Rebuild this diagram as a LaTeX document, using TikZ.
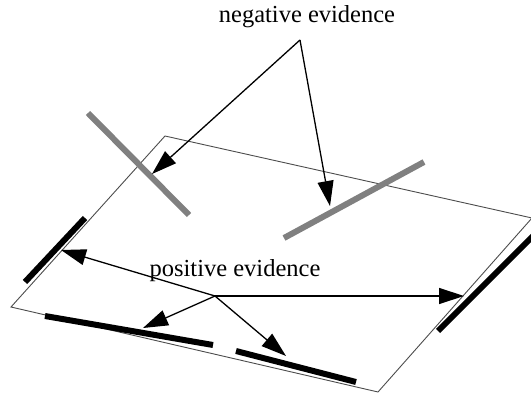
\documentclass[tikz,border=0pt]{standalone}
\usepackage{fontspec}
\setmainfont{Liberation Serif}
\usetikzlibrary{arrows.meta}
\begin{document}
\begin{tikzpicture}[x=1pt,y=-1pt,
  plane/.style={draw=black!70,line width=0.9pt},
  negbar/.style={draw=black!50,line width=6pt},
  posbar/.style={draw=black,line width=6pt},
  evarrow/.style={draw=black,line width=1.3pt,-{Triangle[length=25pt,width=16pt]}},
  lbl/.style={font=\fontsize{24.5}{28}\selectfont,inner sep=0pt}]
\useasboundingbox (0,0) rectangle (531,393);
% plane
\coordinate (pT) at (165,136);
\coordinate (pR) at (532,218);
\coordinate (pB) at (378,392);
\coordinate (pL) at (11,307);
\draw[plane] (pT) -- (pR) -- (pB) -- (pL) -- cycle;
% negative bars
\coordinate (n1a) at (88,113); \coordinate (n1b) at (189,215);
\coordinate (n2a) at (284,238); \coordinate (n2b) at (424,162);
\draw[negbar] (n1a) -- (n1b);
\draw[negbar] (n2a) -- (n2b);
% positive bars
\coordinate (b1a) at (25,282); \coordinate (b1b) at (85,218);
\coordinate (b2a) at (438,331); \coordinate (b2b) at (533,236);
\coordinate (b3a) at (45,316); \coordinate (b3b) at (213,345);
\coordinate (b4a) at (236,351); \coordinate (b4b) at (356,382);
\draw[posbar] (b1a) -- (b1b);
\draw[posbar] (b2a) -- (b2b);
\draw[posbar] (b3a) -- (b3b);
\draw[posbar] (b4a) -- (b4b);
% labels
\node[lbl] (neg) at (307,17) {negative evidence};
\node[lbl] (pos) at (235,271) {positive evidence};
% negative arrows
\coordinate (napex) at (300,40);
\coordinate (nt1) at (152,174);
\coordinate (nt2) at (330,206);
\draw[evarrow] (napex) -- (nt1);
\draw[evarrow] (napex) -- (nt2);
% positive arrows
\coordinate (phub) at (215,296);
\coordinate (pt1) at (61,250);
\coordinate (pt2) at (464,296);
\coordinate (pt3) at (143,328);
\coordinate (pt4) at (286,356);
\draw[evarrow] (phub) -- (pt1);
\draw[evarrow] (phub) -- (pt2);
\draw[evarrow] (phub) -- (pt3);
\draw[evarrow] (phub) -- (pt4);
\end{tikzpicture}
\end{document}
